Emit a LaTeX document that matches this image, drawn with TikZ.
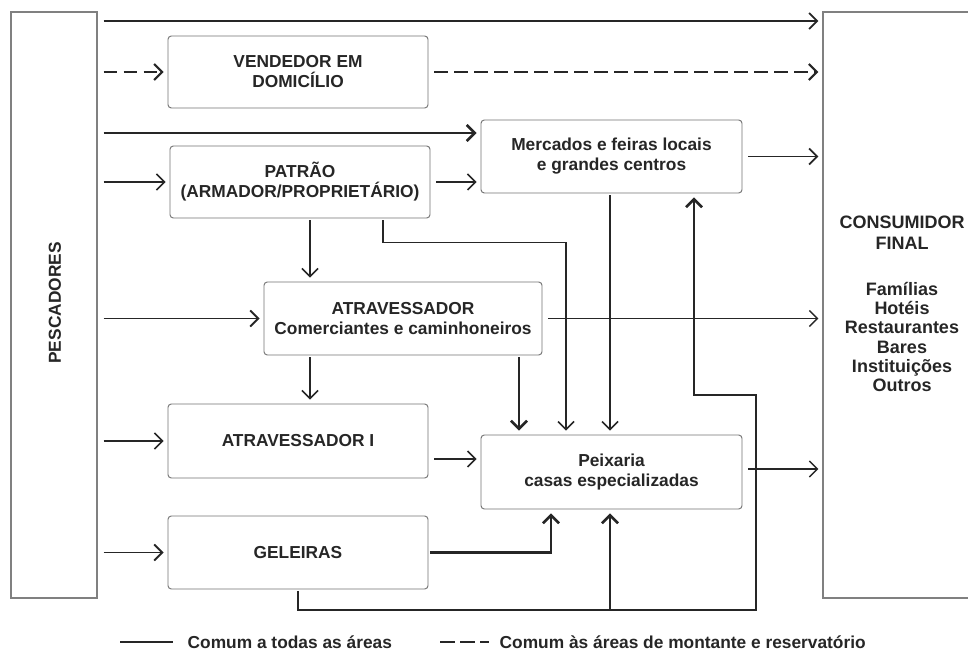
\documentclass[tikz,border=0pt]{standalone}
\usepackage{fontspec}
\setmainfont{Liberation Sans}
\usetikzlibrary{arrows.meta}
\begin{document}
\begin{tikzpicture}[x=0.75pt,y=-0.75pt,
  txt/.style={font=\fontsize{13}{15}\selectfont\bfseries, text=black!85, align=center},
  box/.style={txt, draw=black!55, line width=0.7pt, rounded corners=2.5pt, fill=white, inner sep=0pt},
  bigbox/.style={draw=black!50, line width=0.8pt, inner sep=0pt},
  conn/.style={draw=black!85, line width=1.1pt, -{Straight Barb[length=6pt,width=12pt]}, shorten <=4.5pt, shorten >=3pt},
  medium/.style={line width=1.4pt},
  heavy/.style={line width=1.9pt},
  dashline/.style={line width=1.6pt, dash pattern=on 10pt off 5pt},
  fromtop/.style={shorten <=1.5pt}
]
\useasboundingbox (0,0) rectangle (968,652);

% main boxes
\node[bigbox, minimum width=64.5pt, minimum height=439.5pt] (pesc) at (54,305) {};
\node[txt, rotate=90] (pesct) at (55,303) {PESCADORES};
\node[bigbox, minimum width=132.75pt, minimum height=439.5pt] (cons) at (911.5,305) {};
\node[txt, font=\fontsize{13.5}{15.5}\selectfont\bfseries] (const) at (902,233) {CONSUMIDOR\\FINAL};
\node[txt, font=\fontsize{13.5}{14.5}\selectfont\bfseries] (consl) at (902,337) {Famílias\\Hotéis\\Restaurantes\\Bares\\Instituições\\Outros};

\node[box, minimum width=195pt, minimum height=54pt] (vend) at (298,72) {VENDEDOR EM\\DOMICÍLIO};
\node[box, minimum width=195pt, minimum height=54pt] (patrao) at (300,182) {PATRÃO\\(ARMADOR/PROPRIETÁRIO)};
\node[box, minimum width=195.75pt, minimum height=54.75pt] (merc) at (611.5,156.5) {Mercados e feiras locais\\e grandes centros};
\node[box, minimum width=208.5pt, minimum height=54.75pt] (atrav) at (403,318.5) {ATRAVESSADOR\\Comerciantes e caminhoneiros};
\node[box, minimum width=195pt, minimum height=55.5pt] (atrav1) at (298,441) {ATRAVESSADOR I};
\node[box, minimum width=195.75pt, minimum height=55.5pt] (peix) at (611.5,472) {Peixaria\\casas especializadas};
\node[box, minimum width=195pt, minimum height=54.75pt] (gel) at (298,552.5) {GELEIRAS};

% connectors
\draw[conn, medium] (pesc.east |- 0,21) -- (cons.west |- 0,21);
\draw[conn, dashline] (pesc.east |- vend.west) -- (vend.west);
\draw[conn, dashline] (vend.east) -- (cons.west |- vend.east);
\draw[conn, heavy] (pesc.east |- 0,133) -- (merc.west |- 0,133);
\draw[conn] (pesc.east |- patrao.west) -- (patrao.west);
\draw[conn] (patrao.east) -- (merc.west |- patrao.east);
\draw[conn, medium] (merc.east) -- (cons.west |- merc.east);
\draw[conn, fromtop] (patrao.south -| 310,0) -- (atrav.north -| 310,0);
\draw[conn, fromtop] (patrao.south -| 383,0) -- ++(0,24) -| (peix.north -| 566,0);
\draw[conn, fromtop] (merc.south -| 610,0) -- (peix.north -| 610,0);
\draw[conn] (atrav.east) -- (cons.west |- atrav.east);
\draw[conn, medium] (pesc.east |- atrav.west) -- (atrav.west);
\draw[conn, fromtop] (atrav.south -| 310,0) -- (atrav1.north -| 310,0);
\draw[conn, heavy, fromtop] (atrav.south -| 519,0) -- (peix.north -| 519,0);
\draw[conn] (pesc.east |- atrav1.west) -- (atrav1.west);
\draw[conn] (atrav1.east |- 0,459) -- (peix.west |- 0,459);
\draw[conn] (peix.east |- 0,469) -- (cons.west |- 0,469);
\draw[conn, medium] (pesc.east |- gel.west) -- (gel.west);
\draw[conn, heavy, shorten <=1pt] (gel.east) -| (peix.south -| 551,0);
\coordinate (j) at (610,610);
\draw[conn, heavy, shorten <=1pt] (gel.south) |- (756,610) -- (756,395) -| (merc.south -| 694,0);
\draw[conn, heavy, shorten <=0pt] (j) -- (peix.south -| j);

% legend
\coordinate (l1a) at (120,642);
\coordinate (l1b) at (173,642);
\draw[draw=black!85, line width=1.6pt] (l1a) -- (l1b);
\node[txt, anchor=west] (leg1) at (183,642) {Comum a todas as áreas};
\coordinate (l2a) at (440,642);
\coordinate (l2b) at (489,642);
\draw[draw=black!85, line width=1.6pt, dash pattern=on 11pt off 4pt] (l2a) -- (l2b);
\node[txt, anchor=west] (leg2) at (495,642) {Comum às áreas de montante e reservatório};
\end{tikzpicture}
\end{document}
